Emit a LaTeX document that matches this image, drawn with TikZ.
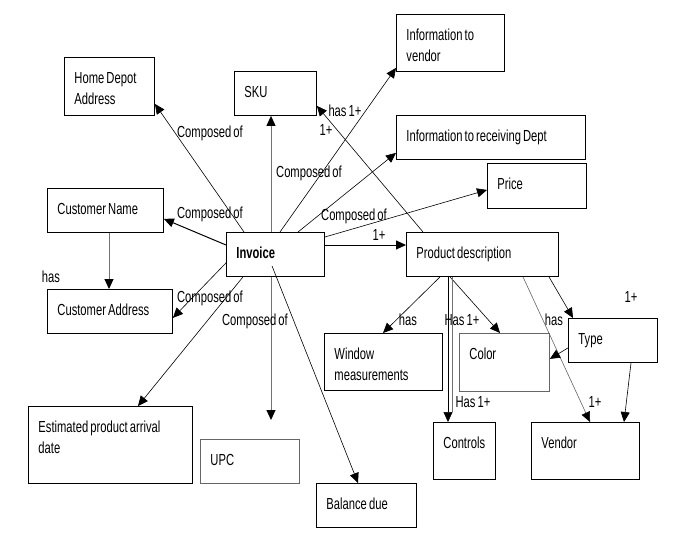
\documentclass[tikz,border=0pt]{standalone}
\usepackage{fontspec}
\setmainfont{Liberation Sans}[FakeStretch=0.7,WordSpace=0.7]
\usetikzlibrary{arrows.meta}

\begin{document}
\begin{tikzpicture}[x=1pt,y=-1pt,
      font=\fontsize{16}{21}\selectfont,
      blk/.style 2 args={draw,line width=0.9pt,anchor=north west,align=left,
                  inner xsep=10pt,inner ysep=0pt,text height=26pt,
                  text width=#1,text depth=#2,
                  execute at begin node={\spaceskip=\fontdimen2\font\relax}},
      lbl/.style={inner sep=0pt,anchor=base},
      arr/.style={-{Triangle[length=10pt,width=9pt,color=black]},line width=0.6pt},
      garr/.style={arr,draw=black!55,line width=1pt}]
    \useasboundingbox[fill=white] (0,0) rectangle (692,554);

    % boxes
    \node[blk={70pt}{32pt}] (hda) at (64,57) {Home Depot\\Address};
    \node[blk={62pt}{18pt}] (sku) at (234,71) {SKU};
    \node[blk={88pt}{31pt}] (ivd) at (396,14) {Information to\\vendor};
    \node[blk={169pt}{18pt}] (ird) at (396,115) {Information to receiving Dept};
    \node[blk={79pt}{19pt}] (price) at (487,163) {Price};
    \node[blk={96pt}{18pt}] (cname) at (47,188) {Customer Name};
    \node[blk={78pt}{18pt}] (inv) at (226,232) {\textbf{Invoice}};
    \node[blk={105pt}{18pt}] (caddr) at (47,289) {Customer Address};
    \node[blk={132pt}{18pt}] (pd) at (406,232) {Product description};
    \node[blk={98pt}{31pt}] (win) at (324,333) {Window\\measurements};
    \node[blk={70pt}{32pt},draw=black!60] (color) at (459,333) {Color};
    \node[blk={69pt}{18pt}] (type) at (568,318) {Type};
    \node[blk={42pt}{31pt}] (ctrl) at (433,422) {Controls};
    \node[blk={88pt}{31pt}] (vend) at (531,422) {Vendor};
    \node[blk={144pt}{51pt}] (est) at (28,406) {Estimated product arrival\\date};
    \node[blk={79pt}{18pt},draw=black!60] (upc) at (200,439) {UPC};
    \node[blk={80pt}{18pt}] (bal) at (316,483) {Balance due};

    % links from the invoice
    \draw[arr] ([xshift=18pt]inv.north west) -- ([yshift=12pt]hda.south east);
    \draw[garr] ([xshift=45pt]inv.north west) -- ([xshift=37pt]sku.south west);
    \draw[arr] ([xshift=54pt]inv.north west) -- ([yshift=4pt]ivd.south west);
    \draw[arr] ([xshift=72pt]inv.north west) -- ([yshift=7pt]ird.south west);
    \draw[arr] ([yshift=-5pt]inv.north east) -- ([yshift=-4pt]price.west);
    \draw[arr,line width=1pt] ([yshift=-13pt]inv.north east) -- ([yshift=-13pt]pd.north west);
    \draw[arr,line width=1pt] ([yshift=-13pt]inv.north west) -- ([yshift=14pt]cname.south east);
    \draw[arr] ([yshift=14pt]inv.south west) -- ([yshift=16pt]caddr.south east);
    \draw[arr] ([xshift=17pt]inv.south west) -- ([xshift=110pt]est.north west);
    \draw[garr] ([xshift=45pt]inv.south west) -- ([xshift=71pt,yshift=19pt]upc.north west);
    \draw[arr] ([xshift=46pt,yshift=11pt]inv.south west) -- ([xshift=42pt]bal.north west);
    \draw[garr] ([xshift=62pt]cname.south west) -- ([xshift=62pt]caddr.north west);

    % links from the product description
    \draw[arr] ([xshift=17pt]pd.north west) -- ([yshift=10pt]sku.south east);
    \draw[arr] ([xshift=34pt]pd.south west) -- ([xshift=59pt]win.north west);
    \draw[arr] ([xshift=44pt]pd.south west) -- ([xshift=41pt]color.north west);
    \draw[arr] ([xshift=42pt]pd.south west) -- ([xshift=15pt]ctrl.north west);
    \draw[draw=black!55,line width=0.8pt] ([xshift=46pt]pd.south west) -- ([xshift=19pt,yshift=10pt]ctrl.north west);
    \draw[arr] ([xshift=143pt]pd.south west) -- ([xshift=5pt]type.north west);
    \draw[arr,draw=black!60] ([xshift=117pt]pd.south west) -- ([xshift=59pt]vend.north west);
    \draw[arr] ([yshift=15pt]type.south west) -- ([yshift=33pt]color.south east);
    \draw[arr] ([xshift=63pt]type.south west) -- ([xshift=93pt]vend.north west);

    % link labels
    \node[lbl] (c1) at (210,137) {Composed of};
    \node[lbl] (c2) at (309,177) {Composed of};
    \node[lbl] (c3) at (210,218) {Composed of};
    \node[lbl] (c4) at (210,302) {Composed of};
    \node[lbl] (c5) at (255,325) {Composed of};
    \node[lbl] (c6) at (354,220) {Composed of};
    \node[lbl] (h1) at (345,116) {has 1+};
    \node[lbl] (n1) at (326,135) {1+};
    \node[lbl] (n2) at (379,240) {1+};
    \node[lbl] (h2) at (51,282) {has};
    \node[lbl] (h3) at (408,325) {has};
    \node[lbl] (h4) at (462,325) {Has 1+};
    \node[lbl] (h5) at (473,407) {Has 1+};
    \node[lbl] (h6) at (554,325) {has};
    \node[lbl] (n3) at (631,302) {1+};
    \node[lbl] (n4) at (595,407) {1+};
\end{tikzpicture}
\end{document}
